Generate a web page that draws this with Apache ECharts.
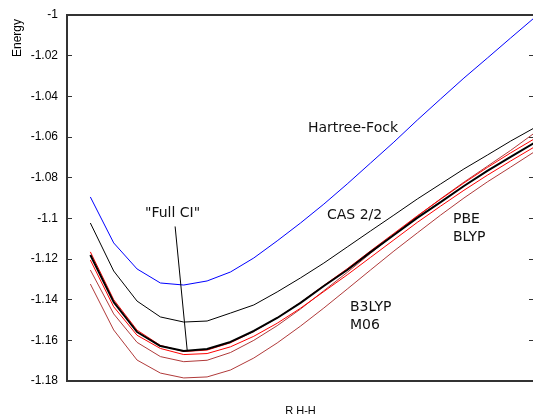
<!DOCTYPE html>
<html>
<head>
<meta charset="utf-8">
<script src="https://cdn.jsdelivr.net/npm/echarts@6/dist/echarts.min.js"></script>
<style>
  html, body { margin: 0; padding: 0; background: #fff; }
  #chart { width: 533px; height: 417px; }
</style>
</head>
<body>
<div id="chart"></div>
<script>
// Sample positions along the H-H separation (evenly spaced scan points)
const rSteps = [1, 2, 3, 4, 5, 6, 7, 8, 9, 10, 11, 12, 13, 14, 15, 16, 17, 18, 19, 20];

// Energies for each method along the scan
const hartreeFock = [-1.0895, -1.1121, -1.1249, -1.1318, -1.1328, -1.1308, -1.1264, -1.1195, -1.1111, -1.1023,
                     -1.0930, -1.0831, -1.0728, -1.0625, -1.0517, -1.0413, -1.0310, -1.0212, -1.0113, -1.0015];
const cas22 = [-1.1023, -1.1259, -1.1407, -1.1485, -1.1510, -1.1505, -1.1466, -1.1426, -1.1362, -1.1293,
               -1.1220, -1.1141, -1.1062, -1.0984, -1.0905, -1.0831, -1.0757, -1.0689, -1.0620, -1.0556];
const fullCI = [-1.1180, -1.1412, -1.1559, -1.1628, -1.1652, -1.1643, -1.1608, -1.1554, -1.1490, -1.1416,
                -1.1333, -1.1254, -1.1166, -1.1082, -1.0998, -1.0920, -1.0841, -1.0767, -1.0698, -1.0630];
const pbe = [-1.1165, -1.1400, -1.1550, -1.1625, -1.1655, -1.1648, -1.1612, -1.1556, -1.1490, -1.1414,
             -1.1330, -1.1248, -1.1160, -1.1074, -1.0988, -1.0906, -1.0826, -1.0750, -1.0678, -1.0610];
const blyp = [-1.1205, -1.1435, -1.1575, -1.1640, -1.1670, -1.1665, -1.1632, -1.1580, -1.1516, -1.1442,
              -1.1360, -1.1278, -1.1192, -1.1106, -1.1020, -1.0940, -1.0862, -1.0788, -1.0718, -1.0650];
const b3lyp = [-1.1254, -1.1470, -1.1610, -1.1680, -1.1705, -1.1698, -1.1660, -1.1600, -1.1528, -1.1446,
               -1.1356, -1.1266, -1.1172, -1.1080, -1.0990, -1.0904, -1.0822, -1.0744, -1.0666, -1.0582];
const m06 = [-1.1323, -1.1549, -1.1697, -1.1761, -1.1785, -1.1780, -1.1746, -1.1687, -1.1613, -1.1530,
             -1.1441, -1.1348, -1.1254, -1.1161, -1.1072, -1.0984, -1.0900, -1.0821, -1.0748, -1.0674];

// Axis range and tick labels for energy
const energyTicks = [-1.18, -1.16, -1.14, -1.12, -1.1, -1.08, -1.06, -1.04, -1.02, -1];

// Pointer from the "Full CI" caption down to the curve minimum
const fullCIPointer = [[4.63, -1.1040], [5.15, -1.1652]];

const pairs = ys => rSteps.map((r, i) => [r, ys[i]]);

const textFont = 'DejaVu Sans';
const axisFont = 'Liberation Sans';

function curve(name, ys, color, width, z) {
  return {
    name, type: 'line', data: pairs(ys), symbol: 'none', smooth: false,
    lineStyle: { color, width }, z: z || 2, animation: false
  };
}

const chart = echarts.init(document.getElementById('chart'), null, { renderer: 'canvas' });
chart.setOption({
  animation: false,
  grid: {
    left: 67, right: -1, top: 15, bottom: 36, containLabel: false, outerBoundsMode: 'none',
    show: true, borderColor: '#333', borderWidth: 2, backgroundColor: 'transparent'
  },
  xAxis: {
    type: 'value', min: 0, max: 20,
    name: 'R H-H', nameLocation: 'middle', nameGap: 24,
    nameTextStyle: { fontFamily: axisFont, fontSize: 11, color: '#000' },
    axisLine: { show: false }, axisTick: { show: false }, axisLabel: { show: false }, splitLine: { show: false }
  },
  yAxis: [{
    type: 'value', min: -1.18, max: -1, interval: 0.02,
    axisLine: { show: false },
    axisTick: { show: true, inside: true, length: 5, lineStyle: { color: '#333', width: 1 } },
    axisLabel: {
      fontFamily: axisFont, fontSize: 12, color: '#000', margin: 9,
      formatter: v => energyTicks.find(t => Math.abs(t - v) < 1e-9) !== undefined ? String(Math.round(v * 100) / 100) : ''
    },
    splitLine: { show: false }
  }, {
    type: 'value', min: -1.18, max: -1, interval: 0.02, position: 'right',
    axisLine: { show: false },
    axisTick: { show: true, inside: true, length: 5, lineStyle: { color: '#333', width: 1 } },
    axisLabel: { show: false }, splitLine: { show: false }
  }],
  series: [
    curve('Hartree-Fock', hartreeFock, '#0000ff', 1),
    curve('CAS 2/2', cas22, '#000000', 1),
    curve('M06', m06, '#b03a3a', 1),
    curve('B3LYP', b3lyp, '#b03a3a', 1),
    curve('BLYP', blyp, '#ff0000', 1),
    curve('PBE', pbe, '#ff0000', 1),
    curve('Full CI', fullCI, '#000000', 2, 3),
    {
      name: 'pointer', type: 'line', data: fullCIPointer, symbol: 'none',
      lineStyle: { color: '#000', width: 1 }, z: 4, animation: false
    }
  ],
  graphic: [
    { type: 'text', x: 18, y: 38, rotation: Math.PI / 2,
      style: { text: 'Energy', fontFamily: axisFont, fontSize: 12, fill: '#000', textAlign: 'center', textVerticalAlign: 'middle' } },
    { type: 'text', left: 308, top: 121, style: { text: 'Hartree-Fock', fontFamily: textFont, fontSize: 14, fill: '#111' } },
    { type: 'text', left: 145, top: 206, style: { text: '"Full CI"', fontFamily: textFont, fontSize: 14, fill: '#111' } },
    { type: 'text', left: 327, top: 208, style: { text: 'CAS 2/2', fontFamily: textFont, fontSize: 14, fill: '#111' } },
    { type: 'text', left: 453, top: 210, style: { text: 'PBE\nBLYP', fontFamily: textFont, fontSize: 14, lineHeight: 18, fill: '#111' } },
    { type: 'text', left: 350, top: 298, style: { text: 'B3LYP\nM06', fontFamily: textFont, fontSize: 14, lineHeight: 18, fill: '#111' } }
  ]
});
</script>
</body>
</html>
